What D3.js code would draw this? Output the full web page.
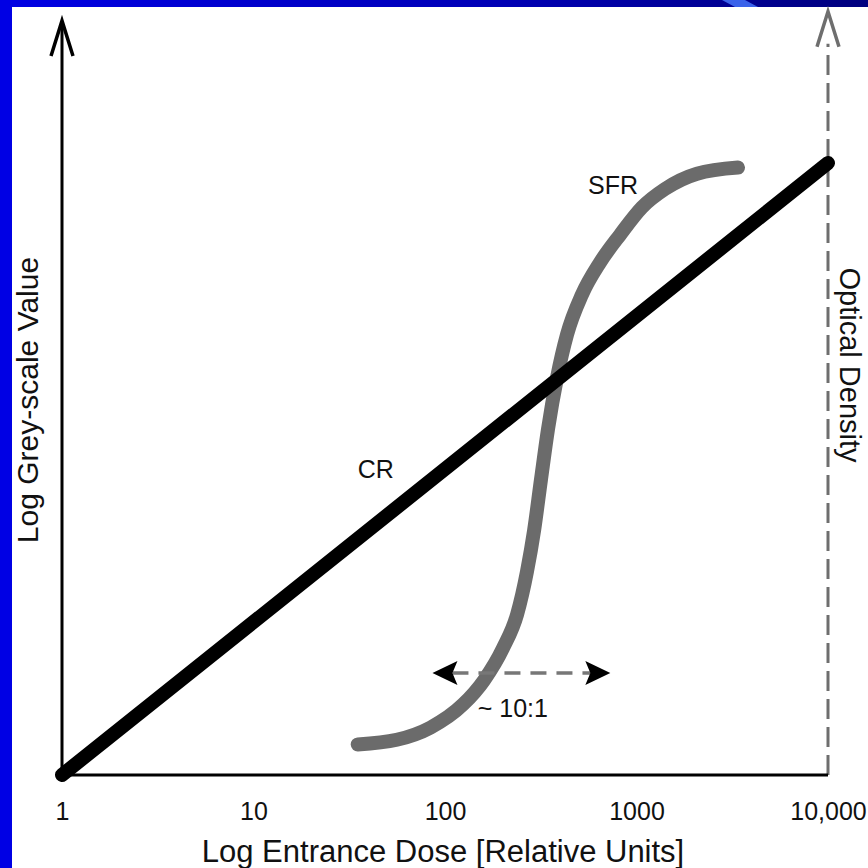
<!DOCTYPE html>
<html>
<head>
<meta charset="utf-8">
<script src="https://d3js.org/d3.v7.min.js"></script>
<style>
  html, body { margin: 0; padding: 0; background: #fff; }
  text { font-family: "Liberation Sans", Arial, sans-serif; fill: #111; }
</style>
</head>
<body>
<script>
// ---- data ----
var tickDoses = [1, 10, 100, 1000, 10000];
var tickLabels = ["1", "10", "100", "1000", "10,000"];

// CR: straight line on log-log
var crDose = [1, 10000];
var crLevel = [0, 4];

// SFR: S-shaped film response
var sfrDose = [35, 56, 84, 124, 160, 201, 238, 268, 292, 317, 345, 385, 434, 519, 645, 820, 1068, 1408, 2070, 3388];
var sfrLevel = [0.20, 0.23, 0.31, 0.46, 0.62, 0.83, 1.05, 1.33, 1.60, 1.93, 2.26, 2.60, 2.88, 3.14, 3.35, 3.53, 3.71, 3.83, 3.93, 3.97];

// latitude arrow (~10:1)
var latDose = [86, 730];
var latLevel = 0.667;

var labels = [
  {text: "CR", dose: 35, level: 1.94, anchor: "start"},
  {text: "SFR", dose: 558, level: 3.80, anchor: "start"},
  {text: "~ 10:1", dose: 226, level: 0.38, anchor: "middle"}
];

// ---- drawing ----
var W = 868, H = 868;
var svg = d3.select("body").append("svg").attr("width", W).attr("height", H);

var x = d3.scaleLog().domain([1, 10000]).range([62, 828]);
var y = d3.scaleLinear().domain([0, 4]).range([775, 163]);

// slide background frame
var defs = svg.append("defs");
var grad = defs.append("linearGradient").attr("id", "topband");
grad.append("stop").attr("offset", "0").attr("stop-color", "#0000e4");
grad.append("stop").attr("offset", "0.55").attr("stop-color", "#0000b8");
grad.append("stop").attr("offset", "1").attr("stop-color", "#00007e");

svg.append("rect").attr("x", 0).attr("y", 0).attr("width", W).attr("height", H).attr("fill", "#fff");
svg.append("rect").attr("x", 0).attr("y", 0).attr("width", W).attr("height", 7).attr("fill", "url(#topband)");
svg.append("path").attr("d", "M722,0 L745,0 L758,7 L735,7 Z").attr("fill", "#3a62ea");
svg.append("rect").attr("x", 0).attr("y", 0).attr("width", 12).attr("height", H).attr("fill", "#0000e4");

var g = svg.append("g");

// left axis with arrow
g.append("line")
  .attr("x1", x(1)).attr("x2", x(1))
  .attr("y1", y(0)).attr("y2", y(4.9))
  .attr("stroke", "#000").attr("stroke-width", 3);
g.append("path")
  .attr("d", "M" + (x(1) - 11) + "," + y(4.7) + " L" + x(1) + "," + y(4.93) + " L" + (x(1) + 11) + "," + y(4.7))
  .attr("fill", "none").attr("stroke", "#000").attr("stroke-width", 3.5)
  .attr("stroke-linejoin", "miter");

// right dashed axis with arrow
g.append("line")
  .attr("x1", x(10000)).attr("x2", x(10000))
  .attr("y1", y(0)).attr("y2", y(4.78))
  .attr("stroke", "#6e6e6e").attr("stroke-width", 3)
  .attr("stroke-dasharray", "20,8");
g.append("path")
  .attr("d", "M" + (x(10000) - 11) + "," + y(4.76) + " L" + x(10000) + "," + y(4.99) + " L" + (x(10000) + 11) + "," + y(4.76))
  .attr("fill", "none").attr("stroke", "#6e6e6e").attr("stroke-width", 3.5);

// bottom axis
g.append("line")
  .attr("x1", x(1)).attr("x2", x(10000))
  .attr("y1", y(0)).attr("y2", y(0))
  .attr("stroke", "#000").attr("stroke-width", 3);

var xAxis = g.append("g")
  .attr("transform", "translate(0," + y(0) + ")")
  .call(d3.axisBottom(x).tickValues(tickDoses).tickSize(0)
    .tickFormat(function(d, i) { return tickLabels[i]; }));
xAxis.select(".domain").remove();
xAxis.selectAll("text")
  .attr("y", 45).attr("dy", null)
  .style("font-size", "25px")
  .style("font-family", "'Liberation Sans', Arial, sans-serif")
  .attr("fill", "#111");

// axis titles
svg.append("text")
  .attr("x", 443).attr("y", 862)
  .attr("text-anchor", "middle")
  .style("font-size", "31px")
  .text("Log Entrance Dose [Relative Units]");

svg.append("text")
  .attr("transform", "translate(38,400) rotate(-90)")
  .attr("text-anchor", "middle")
  .style("font-size", "30px")
  .text("Log Grey-scale Value");

svg.append("text")
  .attr("transform", "translate(840,365) rotate(90)")
  .attr("text-anchor", "middle")
  .style("font-size", "29px")
  .text("Optical Density");

// curves
var line = d3.line()
  .x(function(d) { return x(d[0]); })
  .y(function(d) { return y(d[1]); });

var crData = crDose.map(function(d, i) { return [d, crLevel[i]]; });
var sfrData = sfrDose.map(function(d, i) { return [d, sfrLevel[i]]; });

g.append("path")
  .attr("d", line.curve(d3.curveMonotoneX)(sfrData))
  .attr("fill", "none").attr("stroke", "#6b6b6b")
  .attr("stroke-width", 14).attr("stroke-linecap", "round");

g.append("path")
  .attr("d", line.curve(d3.curveLinear)(crData))
  .attr("fill", "none").attr("stroke", "#000")
  .attr("stroke-width", 14).attr("stroke-linecap", "round");

// latitude double arrow
var ay = y(latLevel), ax1 = x(latDose[0]), ax2 = x(latDose[1]);
var headLen = 25, headHalf = 12, notch = 5;
g.append("line")
  .attr("x1", ax1 + headLen - notch).attr("x2", ax2 - headLen + notch)
  .attr("y1", ay).attr("y2", ay)
  .attr("stroke", "#777").attr("stroke-width", 3.5)
  .attr("stroke-dasharray", "16,10");
g.append("path")
  .attr("d", "M" + ax1 + "," + ay + " L" + (ax1 + headLen) + "," + (ay - headHalf) +
    " L" + (ax1 + headLen - notch) + "," + ay + " L" + (ax1 + headLen) + "," + (ay + headHalf) + " Z")
  .attr("fill", "#000");
g.append("path")
  .attr("d", "M" + ax2 + "," + ay + " L" + (ax2 - headLen) + "," + (ay - headHalf) +
    " L" + (ax2 - headLen + notch) + "," + ay + " L" + (ax2 - headLen) + "," + (ay + headHalf) + " Z")
  .attr("fill", "#000");

// labels
g.selectAll(".lab").data(labels).enter().append("text")
  .attr("class", "lab")
  .attr("x", function(d) { return x(d.dose); })
  .attr("y", function(d) { return y(d.level); })
  .attr("text-anchor", function(d) { return d.anchor; })
  .style("font-size", "25px")
  .text(function(d) { return d.text; });
</script>
</body>
</html>
